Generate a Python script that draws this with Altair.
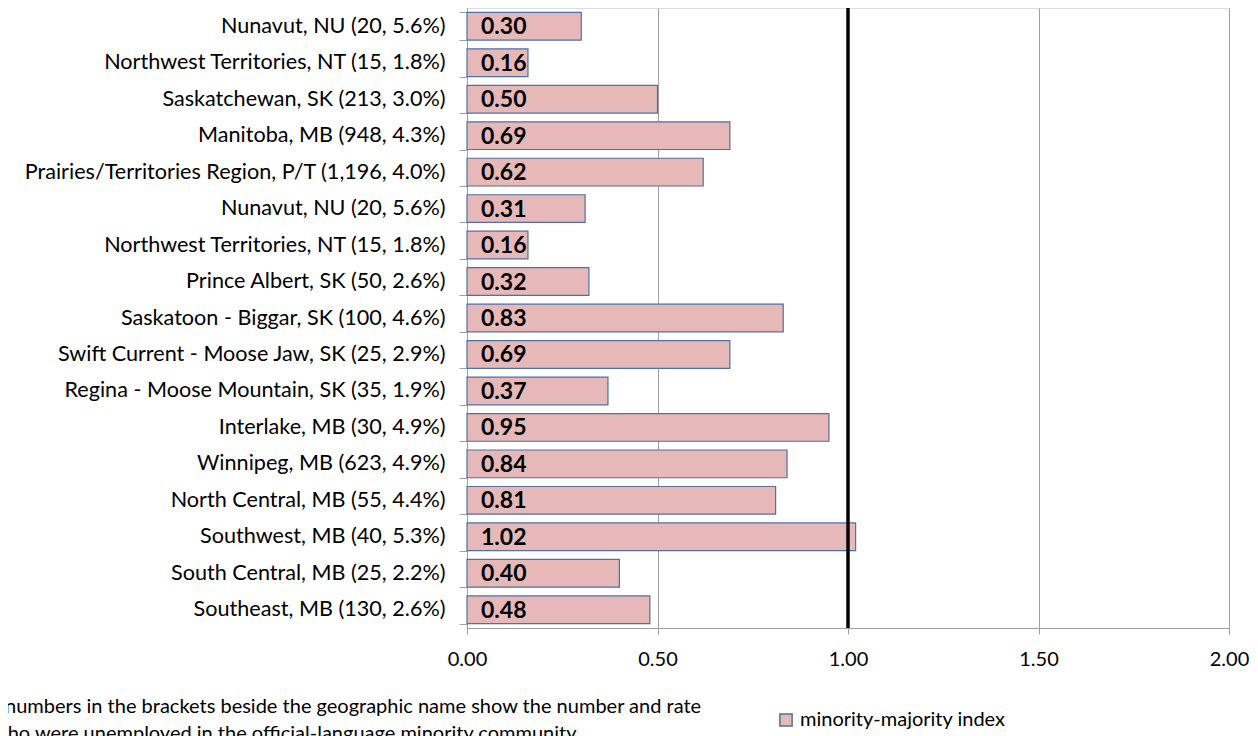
import altair as alt
import pandas as pd

labels = [
    "Nunavut, NU (20, 5.6%)",
    "Northwest Territories, NT (15, 1.8%)",
    "Saskatchewan, SK (213, 3.0%)",
    "Manitoba, MB (948, 4.3%)",
    "Prairies/Territories Region, P/T (1,196, 4.0%)",
    "Nunavut, NU (20, 5.6%)",
    "Northwest Territories, NT (15, 1.8%)",
    "Prince Albert, SK (50, 2.6%)",
    "Saskatoon - Biggar, SK (100, 4.6%)",
    "Swift Current - Moose Jaw, SK (25, 2.9%)",
    "Regina - Moose Mountain, SK (35, 1.9%)",
    "Interlake, MB (30, 4.9%)",
    "Winnipeg, MB (623, 4.9%)",
    "North Central, MB (55, 4.4%)",
    "Southwest, MB (40, 5.3%)",
    "South Central, MB (25, 2.2%)",
    "Southeast, MB (130, 2.6%)",
]
values = [0.30, 0.16, 0.50, 0.69, 0.62, 0.31, 0.16, 0.32, 0.83, 0.69,
          0.37, 0.95, 0.84, 0.81, 1.02, 0.40, 0.48]
series_name = "minority-majority index"
reference_value = 1.0
x_ticks = [0.0, 0.5, 1.0, 1.5, 2.0]
note_lines = [
    "numbers in the brackets beside the geographic name show the number and rate",
    "who were unemployed in the official-language minority community",
]

FONT = "Lato"
W, H = 762, 620

df = pd.DataFrame({
    "idx": list(range(len(labels))),
    "label": labels,
    "value": values,
    "series": [series_name] * len(labels),
})

label_expr = "[" + ",".join("'" + s + "'" for s in labels) + "][datum.value]"

y_enc = alt.Y(
    "idx:O",
    sort="ascending",
    scale=alt.Scale(paddingInner=0.24, paddingOuter=0.12),
    axis=alt.Axis(
        title=None,
        labelExpr=label_expr,
        labelLimit=600,
        tickBand="extent",
        tickSize=8,
        tickColor="#A0A0A0",
        domainColor="#A0A0A0",
        labelFont=FONT,
        labelFontSize=21.6,
        labelColor="#000000",
        labelPadding=14,
        grid=False,
    ),
)

x_enc = alt.X(
    "value:Q",
    scale=alt.Scale(domain=[0, 2], nice=False),
    axis=alt.Axis(
        title=None,
        values=x_ticks,
        format=".2f",
        grid=True,
        gridColor="#A0A0A0",
        gridWidth=1,
        tickSize=6,
        tickColor="#A0A0A0",
        domainColor="#A0A0A0",
        labelFont=FONT,
        labelFontSize=20,
        labelColor="#000000",
        labelPadding=15,
        labelFlush=False,
    ),
)

bars = alt.Chart(df).mark_bar(
    stroke="#4F6FA8", strokeWidth=1.2
).encode(
    y=y_enc,
    x=x_enc,
    color=alt.Color(
        "series:N",
        scale=alt.Scale(range=["#E6B9B8"]),
        legend=alt.Legend(
            title=None,
            orient="none",
            legendX=309,
            legendY=702,
            symbolType="square",
            symbolSize=150,
            symbolStrokeColor="#4F6FA8",
            symbolStrokeWidth=1.5,
            labelFont=FONT,
            labelFontSize=20,
            labelLimit=600,
            labelColor="#000000",
        ),
    ),
)

bar_text = alt.Chart(df).mark_text(
    align="left", baseline="middle", dx=14, dy=1,
    font=FONT, fontSize=23, fontWeight="bold", color="#000000",
).encode(
    y=alt.Y("idx:O", sort="ascending"),
    x=alt.value(0),
    text=alt.Text("value:Q", format=".2f"),
)

ref_rule = alt.Chart(pd.DataFrame({"ref": [reference_value]})).mark_rule(
    color="#000000", strokeWidth=3.5
).encode(
    x=alt.X("ref:Q"),
    y=alt.value(-3),
    y2=alt.value(H),
)

notes_df = pd.DataFrame({"line": note_lines, "ypos": [699, 726], "xpos": [-462, -475]})
notes = alt.Chart(notes_df).mark_text(
    align="left", baseline="middle", font=FONT, fontSize=20, color="#000000"
).encode(
    x=alt.X("xpos:Q", scale=None),
    y=alt.Y("ypos:Q", scale=None),
    text="line:N",
)

chart = alt.layer(bars, bar_text, ref_rule, notes).properties(
    width=W,
    height=H,
    autosize=alt.AutoSizeParams(type="none"),
    padding={"left": 459, "top": 0, "right": 20, "bottom": 110},
).configure_view(
    stroke="#7EA6E0", strokeWidth=1.5
).configure(background="#FFFFFF")

chart.save("out.html", embed_options={"renderer": "svg", "actions": False})
